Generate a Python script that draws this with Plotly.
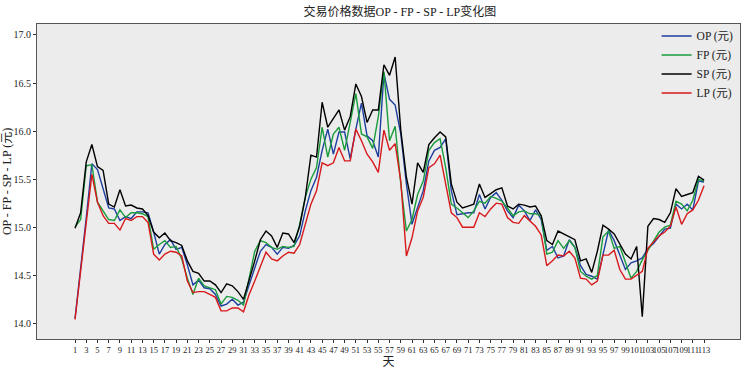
import plotly.graph_objects as go

days = list(range(1, 114))

OP = [14.05, 14.55, 15.10, 15.66, 15.60, 15.40, 15.20, 15.19, 15.07, 15.11,
      15.09, 15.16, 15.16, 15.15, 14.95, 14.72, 14.82, 14.87, 14.77, 14.79,
      14.61, 14.40, 14.45, 14.37, 14.36, 14.30, 14.18, 14.20, 14.25, 14.19,
      14.22, 14.40, 14.58, 14.75, 14.82, 14.79, 14.72, 14.79, 14.78, 14.81,
      14.91, 15.17, 15.38, 15.52, 15.80, 16.02, 15.76, 15.99, 15.99, 15.71,
      16.02, 16.29, 15.95, 15.90, 15.73, 16.60, 16.33, 16.27, 15.97, 15.45,
      15.03, 15.21, 15.38, 15.69, 15.80, 15.83, 15.92, 15.38, 15.13, 15.14,
      15.15, 15.15, 15.34, 15.19, 15.31, 15.36, 15.28, 15.17, 15.10, 15.23,
      15.17, 15.07, 15.18, 15.08, 14.76, 14.80, 14.68, 14.70, 14.87, 14.79,
      14.60, 14.51, 14.49, 14.46, 14.73, 14.97, 14.86, 14.72, 14.56, 14.63,
      14.65, 14.68, 14.78, 14.83, 14.91, 14.98, 14.99, 15.24, 15.19, 15.24,
      15.18, 15.48, 15.47]

FP = [15.00, 15.08, 15.64, 15.65, 15.26, 15.17, 15.08, 15.07, 15.18, 15.10,
      15.15, 15.15, 15.14, 15.11, 14.77, 14.82, 14.86, 14.79, 14.80, 14.67,
      14.47, 14.30, 14.47, 14.39, 14.37, 14.35, 14.20, 14.28, 14.27, 14.24,
      14.19, 14.47, 14.75, 14.86, 14.84, 14.79, 14.77, 14.80, 14.79, 14.80,
      15.03, 15.31, 15.50, 15.62, 16.04, 15.73, 15.97, 16.04, 15.80, 16.09,
      16.39, 15.97, 15.94, 15.82, 16.15, 16.62, 15.90, 16.05, 15.45, 14.96,
      15.08, 15.34, 15.48, 15.80, 15.88, 15.92, 15.62, 15.24, 15.20, 15.15,
      15.10, 15.17, 15.27, 15.25, 15.32, 15.30, 15.27, 15.20, 15.12, 15.16,
      15.17, 15.14, 15.14, 15.12, 14.72, 14.74, 14.86, 14.78, 14.86, 14.79,
      14.54, 14.49, 14.46, 14.50, 14.90, 14.96, 14.78, 14.80, 14.63, 14.47,
      14.54, 14.66, 14.76, 14.85, 14.95, 15.00, 15.02, 15.27, 15.24, 15.17,
      15.28, 15.50, 15.48]

SP = [14.99, 15.15, 15.68, 15.86, 15.63, 15.59, 15.24, 15.21, 15.39, 15.22,
      15.23, 15.20, 15.19, 15.12, 14.95, 14.89, 14.94, 14.86, 14.84, 14.81,
      14.65, 14.54, 14.52, 14.44, 14.44, 14.40, 14.32, 14.41, 14.39, 14.33,
      14.25, 14.44, 14.65, 14.87, 14.96, 14.91, 14.79, 14.94, 14.93, 14.84,
      15.01, 15.31, 15.75, 15.73, 16.30, 16.04, 16.13, 16.22, 16.01, 16.15,
      16.49, 16.36, 16.09, 16.22, 16.22, 16.69, 16.58, 16.77, 16.01, 15.52,
      15.24, 15.67, 15.57, 15.86, 15.93, 15.99, 15.94, 15.45, 15.26, 15.20,
      15.22, 15.24, 15.45, 15.31, 15.35, 15.39, 15.41, 15.22, 15.19, 15.24,
      15.23, 15.21, 15.22, 15.12, 14.86, 14.82, 14.96, 14.93, 14.90, 14.87,
      14.65, 14.67, 14.53, 14.75, 15.02, 14.98, 14.93, 14.82, 14.72, 14.67,
      14.80, 14.07, 15.01, 15.09, 15.08, 15.05, 15.15, 15.40, 15.32, 15.34,
      15.36, 15.53, 15.49]

LP = [14.04, 14.54, 15.04, 15.55, 15.26, 15.12, 15.04, 15.04, 14.97, 15.09,
      15.07, 15.11, 15.11, 15.05, 14.72, 14.66, 14.72, 14.75, 14.74, 14.70,
      14.44, 14.32, 14.33, 14.33, 14.30, 14.27, 14.13, 14.13, 14.16, 14.16,
      14.12, 14.30, 14.44, 14.58, 14.74, 14.67, 14.65, 14.70, 14.74, 14.73,
      14.82, 15.03, 15.24, 15.38, 15.67, 15.64, 15.67, 15.83, 15.69, 15.69,
      16.02, 15.90, 15.76, 15.68, 15.57, 16.01, 15.80, 15.87, 15.48, 14.70,
      14.89, 15.17, 15.31, 15.62, 15.66, 15.75, 15.45, 15.15, 15.10, 15.00,
      15.00, 15.00, 15.15, 15.11, 15.19, 15.25, 15.24, 15.10, 15.05, 15.04,
      15.12, 15.06, 15.01, 14.92, 14.60, 14.65, 14.71, 14.70, 14.75, 14.68,
      14.47, 14.46, 14.40, 14.44, 14.71, 14.71, 14.76, 14.56, 14.46, 14.46,
      14.50, 14.54, 14.78, 14.84, 14.91, 14.95, 15.01, 15.21, 15.03, 15.14,
      15.18, 15.28, 15.43]

series_names = ["OP (元)", "FP (元)", "SP (元)", "LP (元)"]
series_colors = ["#1f3f9f", "#1a9c3c", "#000000", "#d7191c"]
x_ticks = list(range(1, 114, 2))
y_ticks = [14.0, 14.5, 15.0, 15.5, 16.0, 16.5, 17.0]

FONT = "Liberation Serif, Times New Roman, Noto Sans CJK SC, serif"

fig = go.Figure()
for name, vals, col in zip(series_names, [OP, FP, SP, LP], series_colors):
    fig.add_trace(go.Scatter(x=days, y=vals, mode="lines", name=name,
                             line=dict(color=col, width=1.4)))

fig.update_layout(
    width=746, height=369,
    template="none",
    paper_bgcolor="white",
    plot_bgcolor="#ececec",
    margin=dict(l=37, r=6, t=24, b=30),
    font=dict(family=FONT, color="#222"),
    title=dict(text="交易价格数据OP - FP - SP - LP变化图", x=0.536, xanchor="center",
               y=0.967, yanchor="middle", font=dict(size=12, family=FONT, color="#222")),
    showlegend=True,
    legend=dict(x=0.998, xanchor="right", y=1.008, yanchor="top",
                bgcolor="rgba(0,0,0,0)", font=dict(size=11.5, family=FONT),
                itemwidth=30, tracegroupgap=0),
    xaxis=dict(range=[-5.77, 119.4], tickmode="array", tickvals=x_ticks,
               ticktext=[str(v) for v in x_ticks], tickangle=0,
               tickfont=dict(size=8.5, family=FONT), ticks="outside", ticklen=3,
               tickcolor="#333", showgrid=False, zeroline=False,
               showline=True, mirror=True, linecolor="#555", linewidth=1,
               automargin=False,
               title=dict(text="天", font=dict(size=12, family=FONT), standoff=3)),
    yaxis=dict(range=[13.837, 17.114], tickmode="array", tickvals=y_ticks,
               tickformat=".1f", tickfont=dict(size=10, family=FONT),
               ticks="outside", ticklen=3, tickcolor="#333",
               showgrid=False, zeroline=False,
               showline=True, mirror=True, linecolor="#555", linewidth=1,
               automargin=False,
               title=dict(text="OP - FP - SP - LP (元)", font=dict(size=12, family=FONT), standoff=4)),
)

# remove the page's default 8px body margin so the figure sits at the window's corner
fig.write_html("out.html", config={"displayModeBar": False},
               post_script="document.body.style.margin='0px';")
